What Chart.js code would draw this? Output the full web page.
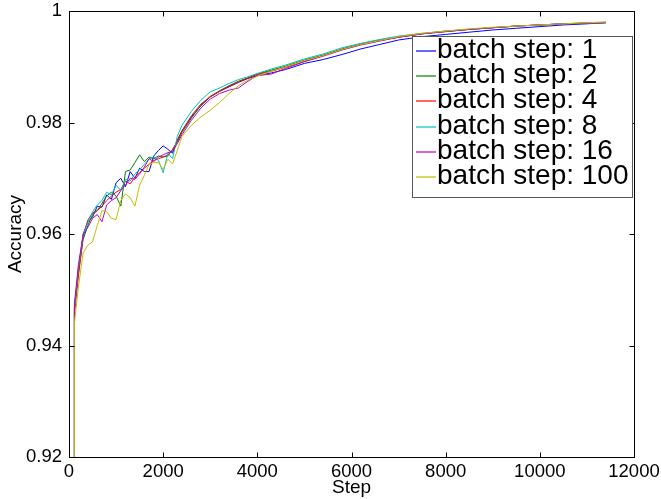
<!DOCTYPE html>
<html lang="en">
<head>
<meta charset="UTF-8">
<title>Accuracy vs Step</title>
<script src="https://cdn.jsdelivr.net/npm/chart.js"></script>
<style>
  body { margin: 0; background: #fff; }
  #wrap { width: 661px; height: 499px; }
</style>
</head>
<body>
<div id="wrap"><canvas id="accChart" width="661" height="499"></canvas></div>
<script>
  // values
  const steps = [110, 115, 200, 300, 400, 500, 600, 700, 800, 900, 1000, 1100, 1200, 1300, 1400, 1500, 1600, 1700, 1800, 1900,
    2000, 2100, 2200, 2300, 2400, 2600, 2800, 3000, 3200, 3400, 3600, 3800, 4000, 4300, 4600, 5000, 5400, 5800, 6200, 6600,
    7000, 7500, 8000, 8500, 9000, 9500, 10000, 10500, 11000, 11400];

  const batch1 = [0.85, 0.9465, 0.9535, 0.9600, 0.9622, 0.9630, 0.9650, 0.9648, 0.9670, 0.9662, 0.9692, 0.9700, 0.9685, 0.9712, 0.9700, 0.9718, 0.9712, 0.9712, 0.9740, 0.9750,
    0.9758, 0.9752, 0.9745, 0.9768, 0.9785, 0.9810, 0.9830, 0.9846, 0.9856, 0.9864, 0.9872, 0.9879, 0.9884, 0.9889, 0.9895, 0.9906, 0.9913, 0.9922, 0.9932, 0.9940,
    0.9948, 0.9954, 0.9958, 0.9962, 0.9966, 0.9969, 0.9972, 0.9975, 0.9977, 0.9979];
  const batch2 = [0.85, 0.9470, 0.9530, 0.9590, 0.9615, 0.9635, 0.9642, 0.9655, 0.9668, 0.9675, 0.9668, 0.9650, 0.9712, 0.9715, 0.9728, 0.9742, 0.9730, 0.9738, 0.9735, 0.9740,
    0.9738, 0.9740, 0.9752, 0.9765, 0.9782, 0.9808, 0.9831, 0.9847, 0.9857, 0.9866, 0.9874, 0.9880, 0.9887, 0.9894, 0.9901, 0.9912, 0.9921, 0.9932, 0.9941, 0.9948,
    0.9953, 0.9959, 0.9963, 0.9967, 0.9970, 0.9973, 0.9975, 0.9977, 0.9979, 0.9980];
  const batch4 = [0.85, 0.9455, 0.9525, 0.9595, 0.9625, 0.9638, 0.9642, 0.9650, 0.9660, 0.9668, 0.9675, 0.9680, 0.9695, 0.9690, 0.9702, 0.9710, 0.9718, 0.9725, 0.9732, 0.9735,
    0.9738, 0.9742, 0.9750, 0.9768, 0.9785, 0.9812, 0.9833, 0.9846, 0.9856, 0.9865, 0.9873, 0.9880, 0.9886, 0.9892, 0.9899, 0.9910, 0.9920, 0.9931, 0.9940, 0.9947,
    0.9953, 0.9959, 0.9964, 0.9967, 0.9970, 0.9973, 0.9975, 0.9977, 0.9978, 0.9979];
  const batch8 = [0.85, 0.9468, 0.9540, 0.9598, 0.9620, 0.9640, 0.9652, 0.9660, 0.9675, 0.9670, 0.9688, 0.9678, 0.9698, 0.9695, 0.9708, 0.9715, 0.9725, 0.9735, 0.9738, 0.9732,
    0.9710, 0.9745, 0.9735, 0.9775, 0.9795, 0.9820, 0.9840, 0.9855, 0.9862, 0.9870, 0.9877, 0.9882, 0.9888, 0.9896, 0.9903, 0.9914, 0.9923, 0.9934, 0.9942, 0.9949,
    0.9955, 0.9960, 0.9964, 0.9967, 0.9970, 0.9973, 0.9975, 0.9977, 0.9978, 0.9979];
  const batch16 = [0.85, 0.9475, 0.9545, 0.9598, 0.9612, 0.9628, 0.9635, 0.9622, 0.9652, 0.9660, 0.9665, 0.9678, 0.9688, 0.9700, 0.9698, 0.9708, 0.9720, 0.9735, 0.9730, 0.9738,
    0.9742, 0.9746, 0.9748, 0.9762, 0.9778, 0.9804, 0.9826, 0.9842, 0.9852, 0.9858, 0.9862, 0.9874, 0.9884, 0.9887, 0.9897, 0.9909, 0.9919, 0.9930, 0.9939, 0.9946,
    0.9953, 0.9959, 0.9963, 0.9967, 0.9970, 0.9973, 0.9975, 0.9977, 0.9978, 0.9979];
  const batch100 = [0.85, 0.9440, 0.9505, 0.9566, 0.9580, 0.9586, 0.9615, 0.9642, 0.9640, 0.9628, 0.9626, 0.9660, 0.9672, 0.9665, 0.9650, 0.9688, 0.9705, 0.9725, 0.9728, 0.9728,
    0.9716, 0.9734, 0.9726, 0.9750, 0.9775, 0.9795, 0.9810, 0.9822, 0.9836, 0.9852, 0.9866, 0.9876, 0.9883, 0.9892, 0.9900, 0.9911, 0.9920, 0.9931, 0.9940, 0.9947,
    0.9954, 0.9960, 0.9964, 0.9968, 0.9971, 0.9973, 0.9975, 0.9977, 0.9979, 0.9980];

  const seriesLabels = ['batch step: 1', 'batch step: 2', 'batch step: 4', 'batch step: 8', 'batch step: 16', 'batch step: 100'];
  const seriesValues = [batch1, batch2, batch4, batch8, batch16, batch100];
  const seriesColors = ['#0000ff', '#008000', '#ff0000', '#00bfbf', '#bf00bf', '#bfbf00'];

  const xTicks = [0, 2000, 4000, 6000, 8000, 10000, 12000];
  const yTicks = [0.92, 0.94, 0.96, 0.98, 1];

  const FONT = 'Liberation Sans, Arial, Helvetica, sans-serif';

  const datasets = seriesValues.map((vals, i) => ({
    label: seriesLabels[i],
    data: steps.map((s, j) => ({ x: s, y: vals[j] })),
    borderColor: seriesColors[i],
    borderWidth: 1,
    pointRadius: 0,
    fill: false,
    tension: 0,
    order: seriesValues.length - i   // last series on top, like matlab
  }));

  // matlab style box, inward ticks, legend in the corner
  const matlabFrame = {
    id: 'matlabFrame',
    afterDatasetsDraw(chart) {
      const { ctx, chartArea: a, scales } = chart;
      const L = Math.round(a.left) + 0.5, R = Math.round(a.right) + 0.5;
      const T = Math.round(a.top) + 0.5, B = Math.round(a.bottom) + 0.5;
      ctx.save();
      ctx.strokeStyle = '#000';
      ctx.lineWidth = 1;
      ctx.strokeRect(L, T, R - L, B - T);
      ctx.beginPath();
      xTicks.forEach(v => {
        const x = Math.round(scales.x.getPixelForValue(v)) + 0.5;
        ctx.moveTo(x, B); ctx.lineTo(x, B - 5);
        ctx.moveTo(x, T); ctx.lineTo(x, T + 5);
      });
      yTicks.forEach(v => {
        const y = Math.round(scales.y.getPixelForValue(v)) + 0.5;
        ctx.moveTo(L, y); ctx.lineTo(L + 5, y);
        ctx.moveTo(R, y); ctx.lineTo(R - 5, y);
      });
      ctx.stroke();

      // legend
      const bx = 412.5, by = 36.5, bw = 220, bh = 161;
      ctx.fillStyle = '#fff';
      ctx.fillRect(bx, by, bw, bh);
      ctx.strokeStyle = '#555';
      ctx.strokeRect(bx, by, bw, bh);
      ctx.font = '28px ' + FONT;
      ctx.textBaseline = 'middle';
      ctx.textAlign = 'left';
      seriesLabels.forEach((lab, i) => {
        const y = Math.round(51 + i * 25.2);
        ctx.strokeStyle = seriesColors[i];
        ctx.lineWidth = 1.2;
        ctx.beginPath();
        ctx.moveTo(416, y); ctx.lineTo(436, y);
        ctx.stroke();
        ctx.fillStyle = '#000';
        ctx.fillText(lab, 437, y - 0.5);
      });
      ctx.restore();
    }
  };

  new Chart(document.getElementById('accChart'), {
    type: 'line',
    data: { datasets },
    options: {
      responsive: false,
      animation: false,
      layout: { padding: { top: 11, right: 27, left: 0, bottom: 0 } },
      plugins: { legend: { display: false }, tooltip: { enabled: false } },
      scales: {
        x: {
          type: 'linear',
          min: 0,
          max: 12000,
          afterBuildTicks: s => { s.ticks = xTicks.map(v => ({ value: v })); },
          afterFit: s => { s.height = 42; s.paddingLeft = 0; s.paddingRight = 0; },
          grid: { display: false, drawTicks: false },
          border: { display: false },
          ticks: { color: '#000', padding: 4, maxRotation: 0, font: { family: FONT, size: 18.5 }, callback: v => String(v) },
          title: { display: true, text: 'Step', color: '#000', padding: { top: 0, bottom: 0 }, font: { family: FONT, size: 19 } }
        },
        y: {
          type: 'linear',
          min: 0.92,
          max: 1,
          afterBuildTicks: s => { s.ticks = yTicks.map(v => ({ value: v })); },
          afterFit: s => { s.width = 69; s.paddingTop = 0; s.paddingBottom = 0; },
          grid: { display: false, drawTicks: false },
          border: { display: false },
          ticks: { color: '#000', padding: 7, font: { family: FONT, size: 18.5 }, callback: v => String(+v.toFixed(2)) },
          title: { display: true, text: 'Accuracy', color: '#000', padding: { top: 4, bottom: 0 }, font: { family: FONT, size: 19 } }
        }
      }
    },
    plugins: [matlabFrame]
  });
</script>
</body>
</html>
